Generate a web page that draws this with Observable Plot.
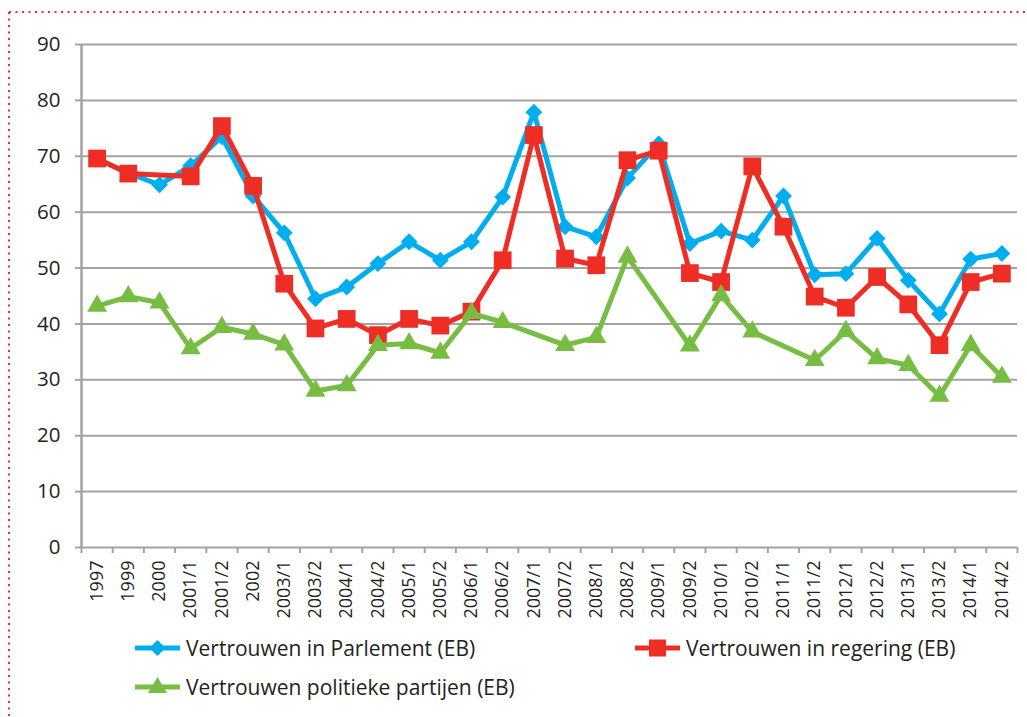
<!DOCTYPE html>
<html>
<head>
<meta charset="utf-8">
<script src="https://cdn.jsdelivr.net/npm/d3@7"></script>
<script src="https://cdn.jsdelivr.net/npm/@observablehq/plot@0.6"></script>
<style>
  body { margin: 0; background: #fff; font-family: "Open Sans", sans-serif; }
  #wrap { position: relative; width: 1027px; height: 717px; overflow: hidden; background: #fff; }
  #chart { position: absolute; left: 0; top: 0; }
  #frame { position: absolute; left: 0; top: 0; }
  .legend-item { position: absolute; display: flex; align-items: center; font-size: 21px; color: #231f20; white-space: nowrap; }
  .legend-item svg { margin-right: 6px; }
</style>
</head>
<body>
<div id="wrap">
  <svg id="frame" width="1027" height="717">
    <line x1="9" y1="12" x2="1027" y2="12" stroke="#e8312a" stroke-width="2" stroke-dasharray="2 4.5"></line>
    <line x1="9" y1="12" x2="9" y2="717" stroke="#e8312a" stroke-width="2" stroke-dasharray="2 4.5"></line>
  </svg>
  <div id="chart"></div>
  <div id="legend"></div>
</div>
<script>
const categories = ["1997","1999","2000","2001/1","2001/2","2002","2003/1","2003/2","2004/1","2004/2",
  "2005/1","2005/2","2006/1","2006/2","2007/1","2007/2","2008/1","2008/2","2009/1","2009/2",
  "2010/1","2010/2","2011/1","2011/2","2012/1","2012/2","2013/1","2013/2","2014/1","2014/2"];

const parlement = [69.5, 67.0, 64.9, 68.3, 73.5, 62.9, 56.3, 44.5, 46.6, 50.8,
  54.7, 51.4, 54.7, 62.7, 77.9, 57.4, 55.6, 66.1, 72.2, 54.4,
  56.6, 55.0, 62.9, 48.8, 49.0, 55.3, 47.8, 41.8, 51.6, 52.6];

const regering = [69.6, 66.9, null, 66.4, 75.4, 64.7, 47.2, 39.2, 40.9, 38.0,
  40.9, 39.7, 42.2, 51.4, 73.8, 51.7, 50.5, 69.3, 71.0, 49.1,
  47.5, 68.2, 57.4, 44.9, 42.9, 48.4, 43.5, 36.2, 47.5, 49.0];

const partijen = [43.2, 44.9, 43.8, 35.6, 39.4, 38.2, 36.3, 28.0, 29.0, 36.2,
  36.5, 34.8, 41.9, 40.3, null, 36.2, 37.6, 52.0, null, 36.1,
  45.1, 38.6, null, 33.5, 38.7, 33.8, 32.6, 27.1, 36.2, 30.5];

const seriesNames = ["Vertrouwen in Parlement (EB)", "Vertrouwen in regering (EB)", "Vertrouwen politieke partijen (EB)"];
const seriesColors = ["#00aeef", "#ee2d24", "#78bd43"];
const yTicks = [0, 10, 20, 30, 40, 50, 60, 70, 80, 90];

function rows(values) {
  return values.map((v, i) => ({i, cat: categories[i], v})).filter(d => d.v != null);
}
const bluePts = rows(parlement), redPts = rows(regering), greenPts = rows(partijen);
const xPos = d => d.i + 0.5;
const grid = "#a3a3a3";

const chart = Plot.plot({
  width: 1027,
  height: 630,
  marginLeft: 81,
  marginRight: 10,
  marginTop: 44,
  marginBottom: 83,
  style: {fontFamily: "'Open Sans', sans-serif", fontSize: "19px", color: "#231f20", background: "transparent"},
  x: {type: "linear", domain: [0, categories.length], axis: null},
  y: {domain: [0, 90], axis: null},
  marks: [
    Plot.gridY(yTicks, {stroke: grid, strokeOpacity: 1, strokeWidth: 2}),
    Plot.axisY(yTicks, {tickSize: 6, tickPadding: 15, stroke: grid, strokeWidth: 2, label: null, fontSize: 20.5}),
    Plot.ruleX([0], {y1: 0, y2: 90, stroke: grid, strokeWidth: 2.5}),
    Plot.axisX(d3.range(categories.length + 1), {tickSize: 6, tickFormat: () => "", stroke: grid, strokeWidth: 2, label: null}),
    Plot.axisX(categories.map((c, i) => i + 0.5), {tickSize: 0, tickPadding: 13, tickRotate: -90, label: null,
      tickFormat: v => categories[Math.round(v - 0.5)], fontSize: 18}),
    Plot.line(bluePts, {x: xPos, y: "v", stroke: seriesColors[0], strokeWidth: 5, strokeLinejoin: "round"}),
    Plot.dot(bluePts, {x: xPos, y: "v", symbol: "diamond2", r: 7.6, fill: seriesColors[0]}),
    Plot.line(redPts, {x: xPos, y: "v", stroke: seriesColors[1], strokeWidth: 5, strokeLinejoin: "round"}),
    Plot.dot(redPts, {x: xPos, y: "v", symbol: "square", r: 10, fill: seriesColors[1]}),
    Plot.line(greenPts, {x: xPos, y: "v", stroke: seriesColors[2], strokeWidth: 5, strokeLinejoin: "round"}),
    Plot.dot(greenPts, {x: xPos, y: "v", symbol: "triangle", r: 7.4, fill: seriesColors[2]})
  ]
});
document.getElementById("chart").appendChild(chart);

// Legend
const legendPos = [{left: 135, top: 634}, {left: 635, top: 634}, {left: 135, top: 673}];
const markerSvg = [
  c => `<path d="M22.5 6 L30.5 14 L22.5 22 L14.5 14 Z" fill="${c}"/>`,
  c => `<rect x="14" y="5.5" width="17" height="17" fill="${c}"/>`,
  c => `<path d="M22.5 4 L32 20 L13 20 Z" fill="${c}"/>`
];
const legend = document.getElementById("legend");
seriesNames.forEach((name, k) => {
  const div = document.createElement("div");
  div.className = "legend-item";
  div.style.left = legendPos[k].left + "px";
  div.style.top = legendPos[k].top + "px";
  div.innerHTML = `<svg width="45" height="28"><line x1="0" y1="14" x2="45" y2="14" stroke="${seriesColors[k]}" stroke-width="5"/>${markerSvg[k](seriesColors[k])}</svg><span>${name}</span>`;
  legend.appendChild(div);
});
</script>
</body>
</html>
